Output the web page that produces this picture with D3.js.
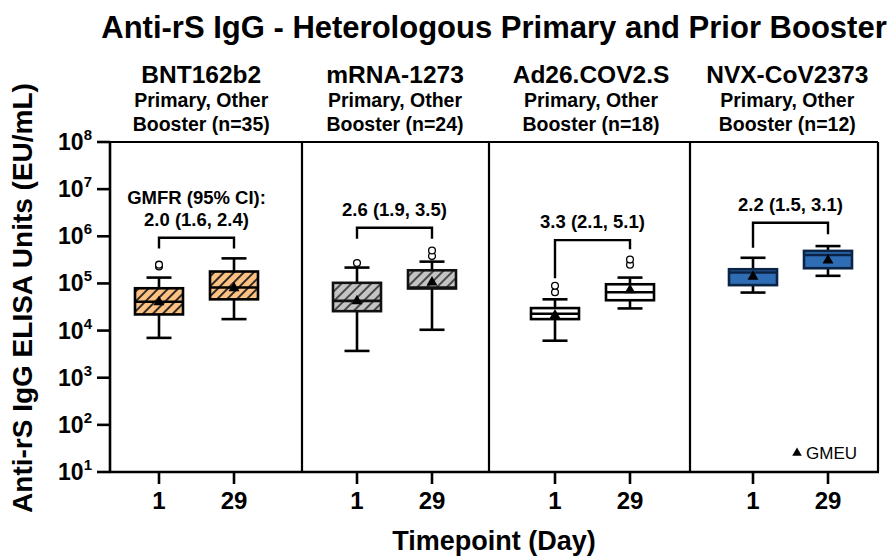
<!DOCTYPE html>
<html><head><meta charset="utf-8">
<script src="https://cdn.jsdelivr.net/npm/d3@7"></script>
<style>body{margin:0;background:#fff} svg{display:block} text{font-family:"Liberation Sans",Arial,sans-serif;fill:#000}</style>
</head><body><svg id="c" width="895" height="557"></svg>
<script>
// ---- data ----
const groups = ["BNT162b2","mRNA-1273","Ad26.COV2.S","NVX-CoV2373"];
const sampleSizes = [35,24,18,12];
const timepoints = ["1","29"];
const whiskerLow  = [[7.0e3,1.75e4],[3.7e3,1.04e4],[6.1e3,2.95e4],[6.4e4,1.45e5]];
const q1          = [[2.2e4,4.6e4],[2.58e4,7.8e4],[1.75e4,4.4e4],[9.2e4,2.1e5]];
const median      = [[4.1e4,8.2e4],[4.27e4,8.2e4],[2.27e4,6.5e4],[1.7e5,4.0e5]];
const q3          = [[7.9e4,1.79e5],[1.03e5,1.9e5],[3.0e4,9.6e4],[2.0e5,4.9e5]];
const whiskerHigh = [[1.33e5,3.4e5],[2.17e5,2.9e5],[4.6e4,1.33e5],[3.5e5,6.2e5]];
const gmeu        = [[4.0e4,8.0e4],[4.2e4,1.05e5],[2.1e4,7.2e4],[1.4e5,3.1e5]];
const outliers    = [[[2.3e5,2.5e5],[]],[[2.7e5],[3.8e5,5.0e5]],[[6.5e4,8.9e4],[2.5e5,3.2e5]],[[],[]]];
const gmfrLabels  = ["2.0 (1.6, 2.4)","2.6 (1.9, 3.5)","3.3 (2.1, 5.1)","2.2 (1.5, 3.1)"];
const bracketTop  = [9.3e5,1.52e6,8.3e5,1.94e6];
const bracketEnd  = [[5.5e5,5.5e5],[8.9e5,8.9e5],[1.29e5,5.3e5],[5.7e5,1.1e6]];
const yTickValues = [1e1,1e2,1e3,1e4,1e5,1e6,1e7,1e8];

// ---- layout / style ----
const svg = d3.select("#c");
const plotTop = 142, plotBottom = 472;
const panelEdges = [110,302,489,690,878];
const y = d3.scaleLog().domain([10,1e8]).range([plotBottom, plotTop]);
const gx = d3.scaleLinear().domain([0,3]).range([196.5,790.5]);
const tx = d3.scalePoint().domain(timepoints).range([-37.5,37.5]);
const boxW = 48, capW = 25;
const fills = ["url(#hatchOrange)","url(#hatchGray)","#ffffff","#2e6db4"];
const strokes = ["#000","#111","#000","#0b2345"];

const defs = svg.append("defs");
function hatch(id, bg, lineCol){
  const p = defs.append("pattern").attr("id",id).attr("patternUnits","userSpaceOnUse")
    .attr("width",7).attr("height",7).attr("patternTransform","rotate(45)");
  p.append("rect").attr("width",7).attr("height",7).attr("fill",bg);
  p.append("line").attr("x1",1).attr("x2",1).attr("y1",0).attr("y2",7).attr("stroke",lineCol).attr("stroke-width",1.8);
}
hatch("hatchOrange","#fdc184","#1a1a1a");
hatch("hatchGray","#c4c4c4","#3a3a3a");

// title
svg.append("text").attr("x",494).attr("y",38).attr("text-anchor","middle")
  .style("font-size","31px").style("font-weight","bold").text("Anti-rS IgG - Heterologous Primary and Prior Booster");

// group headers (centred between the pair centre and the panel centre)
groups.forEach((g,i)=>{
  const cx = (gx(i) + (panelEdges[i]+panelEdges[i+1])/2)/2;
  svg.append("text").attr("x",cx).attr("y",83).attr("text-anchor","middle")
    .style("font-size","24.5px").style("font-weight","bold").text(g);
  svg.append("text").attr("x",cx).attr("y",107).attr("text-anchor","middle")
    .style("font-size","19.5px").style("font-weight","bold").text("Primary, Other");
  svg.append("text").attr("x",cx).attr("y",131).attr("text-anchor","middle")
    .style("font-size","19.5px").style("font-weight","bold").text(`Booster (n=${sampleSizes[i]})`);
});

// frame: panel dividers, top/right border
svg.append("line").attr("x1",panelEdges[0]).attr("x2",panelEdges[4]).attr("y1",plotTop).attr("y2",plotTop)
  .attr("stroke","#000").attr("stroke-width",2.2);
panelEdges.slice(1).forEach(px=>{
  svg.append("line").attr("x1",px).attr("x2",px).attr("y1",plotTop).attr("y2",plotBottom)
    .attr("stroke","#000").attr("stroke-width",2.2);
});

// y axis
const yAxis = svg.append("g").attr("transform",`translate(${panelEdges[0]},0)`);
yAxis.append("line").attr("x1",0).attr("x2",0).attr("y1",plotTop-1).attr("y2",plotBottom+1).attr("stroke","#000").attr("stroke-width",2.6);
yTickValues.forEach(v=>{
  yAxis.append("line").attr("x1",-13).attr("x2",0).attr("y1",y(v)).attr("y2",y(v)).attr("stroke","#000").attr("stroke-width",2.6);
  const t = yAxis.append("text").attr("x",-18).attr("y",y(v)+8).attr("text-anchor","end")
    .style("font-size","23px").style("font-weight","bold");
  t.append("tspan").text("10");
  t.append("tspan").attr("dy",-10).style("font-size","15px").text(Math.round(Math.log10(v)));
});
svg.append("text").attr("transform",`translate(32,298) rotate(-90)`).attr("text-anchor","middle")
  .style("font-size","28px").style("font-weight","bold").text("Anti-rS IgG ELISA Units (EU/mL)");

// x axis
svg.append("line").attr("x1",panelEdges[0]-1).attr("x2",panelEdges[4]+1).attr("y1",plotBottom).attr("y2",plotBottom)
  .attr("stroke","#000").attr("stroke-width",2.6);
groups.forEach((g,i)=>{
  timepoints.forEach(t=>{
    const x = gx(i)+tx(t);
    svg.append("line").attr("x1",x).attr("x2",x).attr("y1",plotBottom).attr("y2",plotBottom+12).attr("stroke","#000").attr("stroke-width",2.6);
    svg.append("text").attr("x",x).attr("y",plotBottom+37).attr("text-anchor","middle")
      .style("font-size","24px").style("font-weight","bold").text(t);
  });
});
svg.append("text").attr("x",494).attr("y",550).attr("text-anchor","middle")
  .style("font-size","27px").style("font-weight","bold").text("Timepoint (Day)");

// boxes
const tri = d3.symbol().type(d3.symbolTriangle).size(52);
groups.forEach((g,i)=>{
  timepoints.forEach((t,j)=>{
    const x = gx(i)+tx(t);
    const gg = svg.append("g");
    const sc = strokes[i];
    gg.append("line").attr("x1",x).attr("x2",x).attr("y1",y(whiskerLow[i][j])).attr("y2",y(q1[i][j])).attr("stroke","#000").attr("stroke-width",2.6);
    gg.append("line").attr("x1",x).attr("x2",x).attr("y1",y(q3[i][j])).attr("y2",y(whiskerHigh[i][j])).attr("stroke","#000").attr("stroke-width",2.6);
    [whiskerLow[i][j], whiskerHigh[i][j]].forEach(v=>{
      gg.append("line").attr("x1",x-capW/2).attr("x2",x+capW/2).attr("y1",y(v)).attr("y2",y(v)).attr("stroke","#000").attr("stroke-width",2.6);
    });
    gg.append("rect").attr("x",x-boxW/2).attr("width",boxW).attr("y",y(q3[i][j])).attr("height",y(q1[i][j])-y(q3[i][j]))
      .attr("fill",fills[i]).attr("stroke",sc).attr("stroke-width",2.6);
    gg.append("line").attr("x1",x-boxW/2).attr("x2",x+boxW/2).attr("y1",y(median[i][j])).attr("y2",y(median[i][j])).attr("stroke",sc).attr("stroke-width",2.6);
    gg.append("path").attr("d",tri).attr("transform",`translate(${x},${y(gmeu[i][j])})`).attr("fill","#000");
    outliers[i][j].forEach(v=>{
      gg.append("circle").attr("cx",x).attr("cy",y(v)).attr("r",3.4).attr("fill","#fff").attr("stroke","#000").attr("stroke-width",1.3);
    });
  });
  // bracket + GMFR
  const x1 = gx(i)+tx("1"), x2 = gx(i)+tx("29"), yt = y(bracketTop[i]);
  svg.append("path").attr("d",`M${x1},${y(bracketEnd[i][0])}V${yt}H${x2}V${y(bracketEnd[i][1])}`)
    .attr("fill","none").attr("stroke","#000").attr("stroke-width",2.4);
  svg.append("text").attr("x",gx(i)).attr("y",yt-12).attr("text-anchor","middle")
    .style("font-size","18.5px").style("font-weight","bold").text(gmfrLabels[i]);
  if(i===0){
    svg.append("text").attr("x",gx(i)).attr("y",yt-34).attr("text-anchor","middle")
      .style("font-size","18.5px").style("font-weight","bold").text("GMFR (95% CI):");
  }
});

// legend
svg.append("path").attr("d",d3.symbol().type(d3.symbolTriangle).size(40)).attr("transform","translate(797,453)").attr("fill","#000");
svg.append("text").attr("x",806).attr("y",459).style("font-size","17px").text("GMEU");
</script></body></html>
